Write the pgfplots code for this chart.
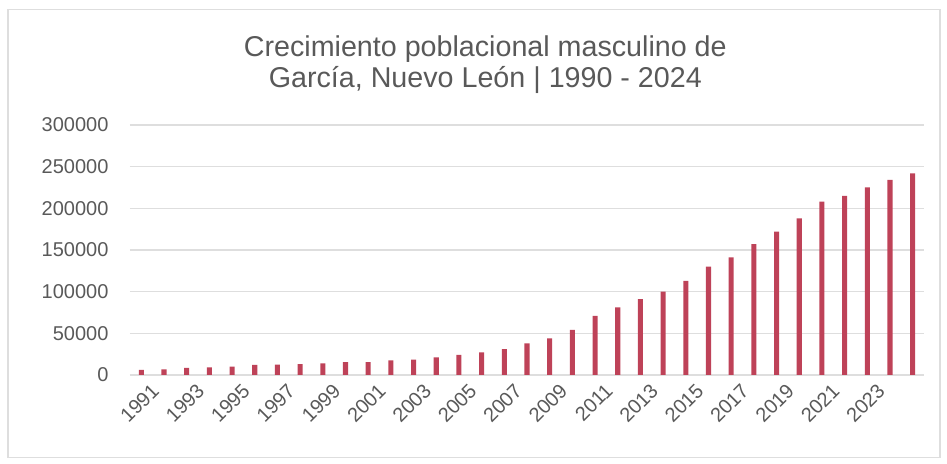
\documentclass[border=0pt]{standalone}
\usepackage{pgfplots}
\pgfplotsset{compat=1.18}
\usepackage{fontspec}
\setmainfont{Liberation Sans}
\definecolor{barcol}{RGB}{190,66,88}
\definecolor{txt}{RGB}{89,89,89}
\definecolor{gridc}{RGB}{222,222,222}
\begin{document}
\begin{tikzpicture}
\path[use as bounding box] (0,0) rectangle (710.25pt,348pt);
\draw[gridc, line width=0.8pt] (6pt,5pt) rectangle (705pt,341pt);
\node[text=txt, align=center, font=\fontsize{21.5}{23.5}\selectfont] at (364pt,299.5pt)
  {Crecimiento poblacional masculino de\\García, Nuevo León | 1990 - 2024};
\begin{axis}[
  at={(97.5pt,66.75pt)}, anchor=south west,
  scale only axis, width=595.5pt, height=187.5pt,
  xmin=-0.5, xmax=34.5, ymin=0, ymax=300000,
  ybar, bar width=3.8pt,
  axis line style={draw=none},
  major tick length=0pt,
  ymajorgrids, grid style={gridc, line width=0.8pt},
  ytick={0,50000,100000,150000,200000,250000,300000},
  scaled y ticks=false,
  yticklabel={\pgfmathprintnumber[fixed,precision=0,1000 sep={},assume math mode=true]{\tick}},
  xtick={0,2,4,6,8,10,12,14,16,18,20,22,24,26,28,30,32},
  xticklabels={1991,1993,1995,1997,1999,2001,2003,2005,2007,2009,2011,2013,2015,2017,2019,2021,2023},
  ticklabel style={text=txt, font=\fontsize{15}{18}\selectfont},
  yticklabel style={anchor=east, inner sep=0pt, xshift=-16pt},
  xticklabel style={rotate=45, anchor=east, inner sep=0pt, yshift=-14pt, xshift=1pt},
]
\addplot[draw=none, fill=barcol] coordinates {
(0,6000) (1,6800) (2,8500) (3,9000) (4,10000) (5,12000) (6,12500) (7,13000)
(8,14000) (9,15500) (10,15500) (11,17500) (12,18500) (13,21000) (14,24000)
(15,27000) (16,31000) (17,38000) (18,44000) (19,54000) (20,71000) (21,81000)
(22,91000) (23,100000) (24,113000) (25,130000) (26,141000) (27,157000)
(28,172000) (29,188000) (30,208000) (31,215000) (32,225000) (33,234000)
(34,242000)};
\end{axis}
\end{tikzpicture}
\end{document}
